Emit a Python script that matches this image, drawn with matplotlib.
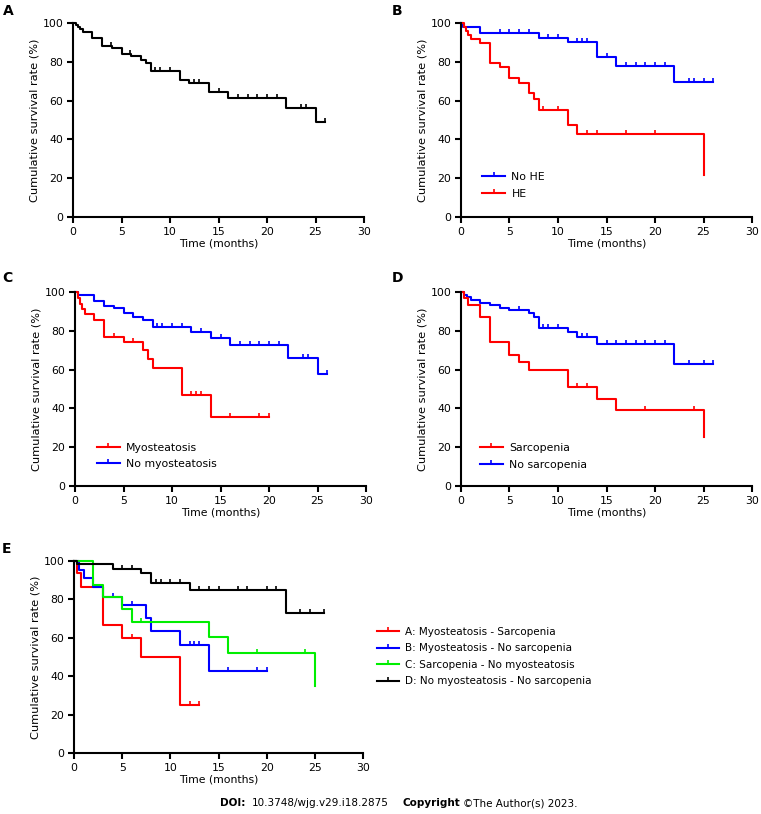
import numpy as np
import matplotlib.pyplot as plt
from matplotlib.lines import Line2D
from matplotlib.path import Path

plt.rcParams['font.family'] = 'DejaVu Sans'
plt.rcParams['font.size'] = 7.5

W, H = 761, 814

# ---- data: step times, survival (%) after each step, last follow-up, censored times ----
# A: all patients
a_t = [0, 0.3, 0.5, 0.7, 1, 2, 3, 4, 5, 6, 7, 7.5, 8, 11, 12, 14, 16, 22, 25]
a_s = [100, 99, 98, 97, 95.5, 92.5, 88, 87, 84, 83, 81, 79.5, 75.5, 70.5, 69, 64.5, 61.5, 56, 49]
a_end = 26
a_cens = [3.9, 5.9, 8.5, 9, 10, 12.5, 13, 15, 17, 18, 19, 20, 21, 23.5, 24, 26]

# B: HE
noHE_t = [0, 0.2, 2, 8, 11, 14, 16, 22]
noHE_s = [100, 98, 95, 92.5, 90, 82.5, 78, 69.5]
noHE_end = 26
noHE_cens = [4, 5, 6, 7, 9, 10, 12, 12.5, 13, 15, 17, 18, 19, 20, 21, 23.5, 24, 25, 26]

HE_t = [0, 0.3, 0.5, 0.7, 1, 2, 3, 4, 5, 6, 7, 7.5, 8, 11, 12, 25]
HE_s = [100, 98, 96, 94, 92, 89.5, 79.5, 77.5, 71.5, 69, 64, 61, 55, 47.5, 43, 21.5]
HE_end = 25
HE_cens = [8.5, 10, 13, 14, 17, 20]

# C: myosteatosis
myo_t = [0, 0.3, 0.5, 0.7, 1, 2, 3, 5, 7, 7.5, 8, 11, 14]
myo_s = [100, 97, 94, 91, 88.5, 85.5, 77, 74, 70, 65.5, 61, 47, 35.5]
myo_end = 20
myo_cens = [4, 6, 12, 12.5, 13, 16, 19, 20]

nomyo_t = [0, 0.3, 2, 3, 4, 5, 6, 7, 8, 12, 14, 16, 22, 25]
nomyo_s = [100, 98.5, 95.5, 93, 91.5, 89, 87, 85.5, 82, 79.5, 76.5, 72.5, 66, 57.5]
nomyo_end = 26
nomyo_cens = [8.5, 9, 10, 11, 13, 15, 17, 18, 19, 20, 21, 23.5, 24, 26]

# D: sarcopenia
sar_t = [0, 0.3, 0.7, 2, 3, 5, 6, 7, 11, 14, 16, 25]
sar_s = [100, 97, 93.5, 87, 74, 67.5, 64, 60, 51, 45, 39, 25.5]
sar_end = 25
sar_cens = [12, 13, 19, 24]

nosar_t = [0, 0.3, 0.6, 1, 2, 3, 4, 5, 7, 7.5, 8, 11, 12, 14, 22]
nosar_s = [100, 98.5, 97.5, 96, 94.5, 93.5, 92, 90.5, 89, 87, 81.5, 79.5, 77, 73, 63]
nosar_end = 26
nosar_cens = [6, 8.5, 9, 10, 12.5, 13, 15, 16, 17, 18, 19, 20, 21, 23.5, 25, 26]

# E: combined groups
gA_t = [0, 0.3, 0.7, 3, 5, 7, 11]
gA_s = [100, 93.5, 86.5, 66.5, 60, 50, 25]
gA_end = 13
gA_cens = [6, 12, 13]

gB_t = [0, 0.5, 1, 2, 3, 5, 7.5, 8, 11, 14]
gB_s = [100, 95.5, 91, 86.5, 81.5, 77, 70.5, 63.5, 56.5, 42.5]
gB_end = 20
gB_cens = [4, 6, 12, 12.5, 13, 16, 19, 20]

gC_t = [0, 2, 3, 5, 6, 14, 16, 25]
gC_s = [100, 87.5, 81, 75, 68, 60.5, 52, 35]
gC_end = 25
gC_cens = [7, 19, 24]

gD_t = [0, 0.3, 4, 7, 8, 12, 22]
gD_s = [100, 98.5, 96, 93.5, 88.5, 85, 73]
gD_end = 26
gD_cens = [5, 6, 8.5, 9, 10, 11, 13, 14, 15, 17, 18, 20, 21, 23.5, 24.5, 26]

RED, BLUE, GREEN, BLACK = '#ff0000', '#0000ff', '#00ee00', '#000000'
TICK = Path([(0, 0), (0, 1)])


def surv_at(t, s, x):
    i = np.searchsorted(t, x, side='right') - 1
    return np.asarray(s)[i]


def km(ax, t, s, end, cens, color):
    tt = list(t) + [end]
    ss = list(s) + [s[-1]]
    ax.step(tt, ss, where='post', color=color, lw=1.5, clip_on=False)
    ax.plot(cens, surv_at(t, s, cens), ls='none', marker=TICK, ms=6, mew=1.2,
            color=color, clip_on=False)


def handle(color):
    return Line2D([], [], color=color, lw=1.5, marker=TICK, ms=6, mew=1.2)


LEG = dict(loc='center left', frameon=False, handlelength=2.1, handletextpad=0.6,
           labelspacing=0.62, borderpad=0, borderaxespad=0)


def style(ax):
    ax.set_xlim(0, 30)
    ax.set_ylim(0, 100)
    ax.set_xticks(range(0, 31, 5))
    ax.set_yticks(range(0, 101, 20))
    for sp in ['top', 'right']:
        ax.spines[sp].set_visible(False)
    for sp in ['left', 'bottom']:
        ax.spines[sp].set_linewidth(1.5)
    ax.tick_params(width=1.5, length=4.5, pad=2.5, labelsize=7.8)
    ax.set_xlabel('Time (months)', labelpad=1, fontsize=7.8)
    ax.set_ylabel('Cumulative survival rate (%)', labelpad=2, fontsize=8.2)
    ax.patch.set_visible(False)


def box(x0, y0, x1, y1):
    # pixel box (top-left origin) -> figure fraction
    return [x0 / W, 1 - y1 / H, (x1 - x0) / W, (y1 - y0) / H]


fig = plt.figure(figsize=(W / 100, H / 100), dpi=100)

axA = fig.add_axes(box(73, 23, 364, 217))
axB = fig.add_axes(box(461, 23, 752, 217))
axC = fig.add_axes(box(75, 292, 366, 486))
axD = fig.add_axes(box(461, 292, 752, 486))
axE = fig.add_axes(box(74, 561, 363, 753))

for ax in [axA, axB, axC, axD, axE]:
    style(ax)

km(axA, a_t, a_s, a_end, a_cens, BLACK)

km(axB, noHE_t, noHE_s, noHE_end, noHE_cens, BLUE)
km(axB, HE_t, HE_s, HE_end, HE_cens, RED)
axB.legend([handle(BLUE), handle(RED)], ['No HE', 'HE'],
           bbox_to_anchor=(0.073, 0.162), fontsize=7.8, **LEG)

km(axC, nomyo_t, nomyo_s, nomyo_end, nomyo_cens, BLUE)
km(axC, myo_t, myo_s, myo_end, myo_cens, RED)
axC.legend([handle(RED), handle(BLUE)], ['Myosteatosis', 'No myosteatosis'],
           bbox_to_anchor=(0.075, 0.155), fontsize=7.8, **LEG)

km(axD, nosar_t, nosar_s, nosar_end, nosar_cens, BLUE)
km(axD, sar_t, sar_s, sar_end, sar_cens, RED)
axD.legend([handle(RED), handle(BLUE)], ['Sarcopenia', 'No sarcopenia'],
           bbox_to_anchor=(0.065, 0.1525), fontsize=7.8, **LEG)

km(axE, gA_t, gA_s, gA_end, gA_cens, RED)
km(axE, gB_t, gB_s, gB_end, gB_cens, BLUE)
km(axE, gC_t, gC_s, gC_end, gC_cens, GREEN)
km(axE, gD_t, gD_s, gD_end, gD_cens, BLACK)
fig.legend([handle(RED), handle(BLUE), handle(GREEN), handle(BLACK)],
           ['A: Myosteatosis - Sarcopenia', 'B: Myosteatosis - No sarcopenia',
            'C: Sarcopenia - No myosteatosis', 'D: No myosteatosis - No sarcopenia'],
           bbox_to_anchor=(377 / W, 1 - 656.5 / H), fontsize=7.5, **LEG)

# panel letters
for lab, (px, py) in {'A': (3, 4), 'B': (392, 4), 'C': (2, 271), 'D': (392, 271),
                      'E': (2, 542)}.items():
    fig.text(px / W, 1 - py / H, lab, fontsize=10, fontweight='bold', va='top', ha='left')

# footer
fy = 1 - 803 / H
fig.text(220 / W, fy, 'DOI:', fontweight='bold', va='center', ha='left')
fig.text(252 / W, fy, '10.3748/wjg.v29.i18.2875', va='center', ha='left')
fig.text(402 / W, fy, 'Copyright', fontweight='bold', va='center', ha='left')
fig.text(463 / W, fy, '\u00a9The Author(s) 2023.', va='center', ha='left')

fig.savefig('out.png', dpi=100)
